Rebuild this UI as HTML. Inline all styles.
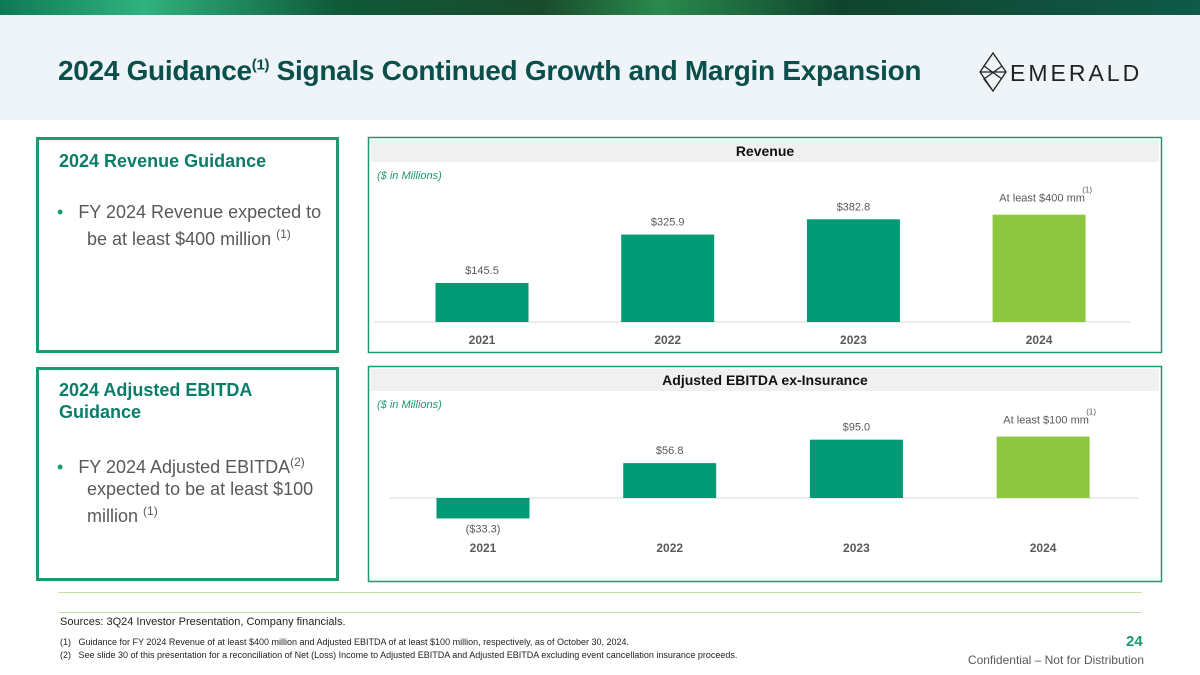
<!DOCTYPE html>
<html><head><meta charset="utf-8"><style>
body{margin:0;width:1200px;height:675px;position:relative;overflow:hidden;background:#fff;font-family:"Liberation Sans",Arial,sans-serif}
.abs{position:absolute}
.box{position:absolute;border:3px solid #1a9a6e;box-sizing:border-box}
.lt{color:#0a7d68;font-weight:bold;font-size:18px}
.bul{font-size:18px;color:#595959;line-height:22px}
</style></head><body>
<div class="abs" style="left:0;top:0;width:1200px;height:15px;background:linear-gradient(90deg,#0d7a55 0%,#2fb37f 12%,#0f5a3a 28%,#1a4a2c 45%,#2a8a4c 55%,#11442e 70%,#0f5a48 100%)"></div>
<div class="abs" style="left:0;top:15px;width:1200px;height:105px;background:#eef4f7"></div>
<div class="abs" style="left:58px;top:55px;font-size:28px;font-weight:bold;color:#0b4f4c;letter-spacing:-0.3px">2024 Guidance<sup style="font-size:15px">(1)</sup> Signals Continued Growth and Margin Expansion</div>
<div class="abs" style="left:978px;top:52px;width:170px;height:40px">
<svg width="30" height="40" style="position:absolute;left:0;top:0"><g fill="none" stroke="#222" stroke-width="1.3"><path d="M15 1 L28 20 L15 39 L2 20 Z M2 20 L28 20 M15 1 L6 14 L24 27 M15 39 L6 27 L24 14"/></g></svg>
<span style="position:absolute;left:32px;top:8px;font-size:23px;letter-spacing:3px;color:#222">EMERALD</span></div>

<div class="box" style="left:36px;top:137px;width:303px;height:216px">
<div class="lt" style="position:absolute;left:20px;top:11px">2024 Revenue Guidance</div>
<div class="bul" style="position:absolute;left:18px;top:61px"><span style="color:#1a9a6e">•</span>&nbsp;&nbsp; FY 2024 Revenue expected to<br>&nbsp;&nbsp;&nbsp;&nbsp;&nbsp; be at least $400 million <sup style="font-size:12px">(1)</sup></div></div>
<div class="box" style="left:36px;top:367px;width:303px;height:214px">
<div class="lt" style="position:absolute;left:20px;top:9px;line-height:22px">2024 Adjusted EBITDA<br>Guidance</div>
<div class="bul" style="position:absolute;left:18px;top:81px"><span style="color:#1a9a6e">•</span>&nbsp;&nbsp; FY 2024 Adjusted EBITDA<sup style="font-size:12px">(2)</sup><br>&nbsp;&nbsp;&nbsp;&nbsp;&nbsp; expected to be at least $100<br>&nbsp;&nbsp;&nbsp;&nbsp;&nbsp; million <sup style="font-size:12px">(1)</sup></div></div>

<svg class="abs" style="left:0;top:0" width="1200" height="675" id="svg"></svg>

<div class="abs" style="left:58px;top:592px;width:1084px;height:1px;background:#c5e0a5"></div>
<div class="abs" style="left:58px;top:612px;width:1084px;height:1px;background:#c5e0a5"></div>
<div class="abs" style="left:60px;top:616px;font-size:11px;color:#222">Sources: 3Q24 Investor Presentation, Company financials.</div>
<div class="abs" style="left:60px;top:636px;font-size:9px;color:#222;line-height:13px">(1)&nbsp;&nbsp;&nbsp;Guidance for FY 2024 Revenue of at least $400 million and Adjusted EBITDA of at least $100 million, respectively, as of October 30, 2024.<br>(2)&nbsp;&nbsp;&nbsp;See slide 30 of this presentation for a reconciliation of Net (Loss) Income to Adjusted EBITDA and Adjusted EBITDA excluding event cancellation insurance proceeds.</div>
<div class="abs" style="left:1126px;top:633px;font-size:15px;font-weight:bold;color:#1a9a6e">24</div>
<div class="abs" style="right:56px;top:653px;font-size:12px;color:#595959">Confidential – Not for Distribution</div>

<script>
const years=["2021","2022","2023","2024"];
const revenue=[145.5,325.9,382.8,400];
const revLabels=["$145.5","$325.9","$382.8","At least $400 mm"];
const ebitda=[-33.3,56.8,95.0,100];
const ebitdaLabels=["($33.3)","$56.8","$95.0","At least $100 mm"];
const svg=document.getElementById('svg');
const NS='http://www.w3.org/2000/svg';
function mk(t,a,txt){const e=document.createElementNS(NS,t);for(const k in a)e.setAttribute(k,a[k]);if(txt!=null)e.textContent=txt;svg.appendChild(e);return e;}
function panel(y,h,title,sup,vals,labels,base,scale,xs,axX0,axX1,yearY,nm){
 let p=mk('rect',{x:368.5,y:y+0.5,width:793,height:h,fill:'#fff',stroke:'#1a9a6e','stroke-width':1.5});
 
 let b=mk('rect',{x:371,y:y+3,width:788,height:22,fill:'#f0f0f0'});
 
 let t=mk('text',{x:765,y:y+19,'text-anchor':'middle','font-size':14,'font-weight':'bold',fill:'#111'},title);
 
 if(sup){let s=mk('tspan',{'font-size':9,dy:-6},sup);}
 let u=mk('text',{x:377,y:y+42,'font-size':11,'font-style':'italic',fill:'#1a9a6e'},'($ in Millions)');
 
 let ax=mk('line',{x1:axX0,x2:axX1,y1:base,y2:base,stroke:'#d9d9d9','stroke-width':1});
 
 const bw=93;
 vals.forEach((v,i)=>{
  const cx=xs(i),hh=Math.abs(v)*scale,top=v>=0?base-hh:base;
  let r=mk('rect',{x:cx-bw/2,y:top,width:bw,height:hh,fill:i==3?'#8dc63f':'#009a74'});
  
  const ly=v>=0?top-9:base+hh+14;
  let l=mk('text',{x:cx,y:ly,'text-anchor':'middle','font-size':11,fill:'#595959'},labels[i]);
  
  if(i==3){l.setAttribute('x',cx+3);l.setAttribute('y',ly-4);let s=mk('text',{x:cx+48,y:ly-13,'text-anchor':'middle','font-size':8,fill:'#595959'},'(1)');}
  let yl=mk('text',{x:cx,y:yearY,'text-anchor':'middle','font-size':12,'font-weight':'bold',fill:'#595959'},years[i]);
  
 });
}
panel(137,215,'Revenue',null,revenue,revLabels,322,0.2683,i=>482+i*185.7,374,1130,344,'revenue');
panel(366,215,'Adjusted EBITDA ex-Insurance','(1)',ebitda,ebitdaLabels,498,0.614,i=>483+i*186.7,390,1138,552,'ebitda');
</script>
</body></html>
